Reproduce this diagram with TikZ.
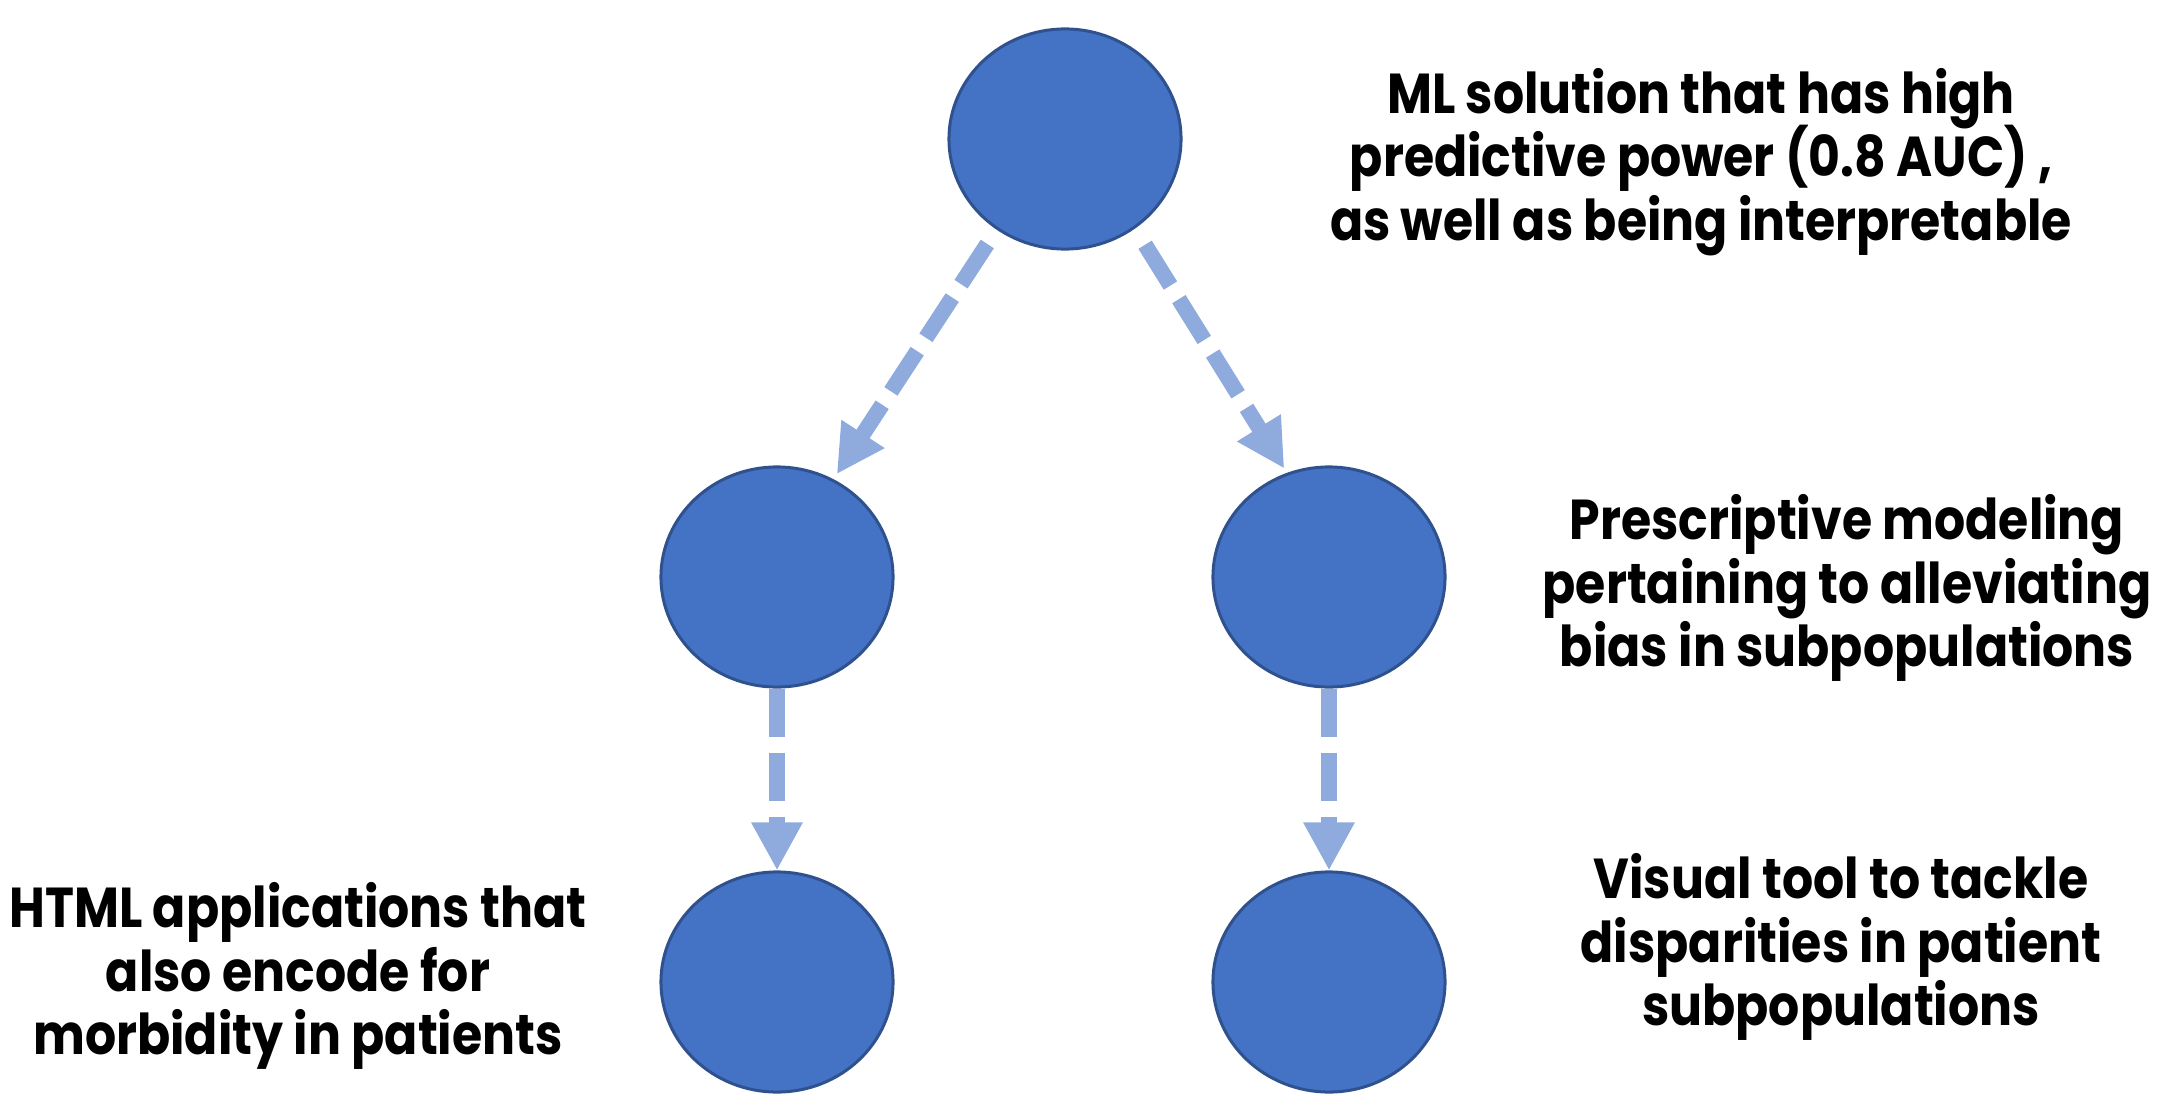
\documentclass[tikz,border=0pt]{standalone}
\usepackage{fontspec}
\setmainfont{Poppins}[FakeStretch=0.87]
\usetikzlibrary{shapes.geometric,arrows.meta}
\definecolor{circfill}{HTML}{4472C4}
\definecolor{circline}{HTML}{2F528F}
\definecolor{arrcol}{HTML}{8FAADC}
\newcommand\mylblfont{\bfseries\fontsize{16pt}{18pt}\selectfont\lineskiplimit=-20pt\relax}
\tikzset{
  bubble/.style={ellipse, draw=circline, fill=circfill, line width=0.03cm, minimum width=2.32cm, minimum height=2.2cm, inner sep=0pt},
  flow/.style={draw=arrcol, line width=0.157cm, dash pattern=on 0.48cm off 0.16cm,
    -{Triangle[length=0.48cm,width=0.48cm,fill=arrcol]}},
  lbl/.style={align=center, font=\mylblfont, inner sep=0pt}
}
\begin{document}
\begin{tikzpicture}[x=0.01cm,y=-0.01cm]
\useasboundingbox (0,0) rectangle (2160,1100);
\node[bubble] (top) at (1065,139) {};
\node[bubble] (ml) at (777,577) {};
\node[bubble] (mr) at (1329,577) {};
\node[bubble] (bl) at (777,982) {};
\node[bubble] (br) at (1329,982) {};
\draw[flow, shorten <=0.17cm, shorten >=0.06cm] (top.-127) -- (ml.60);
\draw[flow, shorten <=0.19cm, shorten >=0.05cm] (top.-52) -- (mr.112);
\draw[flow] (ml.south) -- (bl.north);
\draw[flow] (mr.south) -- (br.north);
\node[lbl] (t1) at (1701,162) {ML solution that has high\\predictive power (0.8 AUC) ,\\as well as being interpretable};
\node[lbl] (t2) at (1847,588) {Prescriptive modeling\\pertaining to alleviating\\bias in subpopulations};
\node[lbl] (t3) at (298,976) {HTML applications that\\also encode for\\morbidity in patients};
\node[lbl] (t4) at (1841,947) {Visual tool to tackle\\disparities in patient\\subpopulations};
\end{tikzpicture}
\end{document}
